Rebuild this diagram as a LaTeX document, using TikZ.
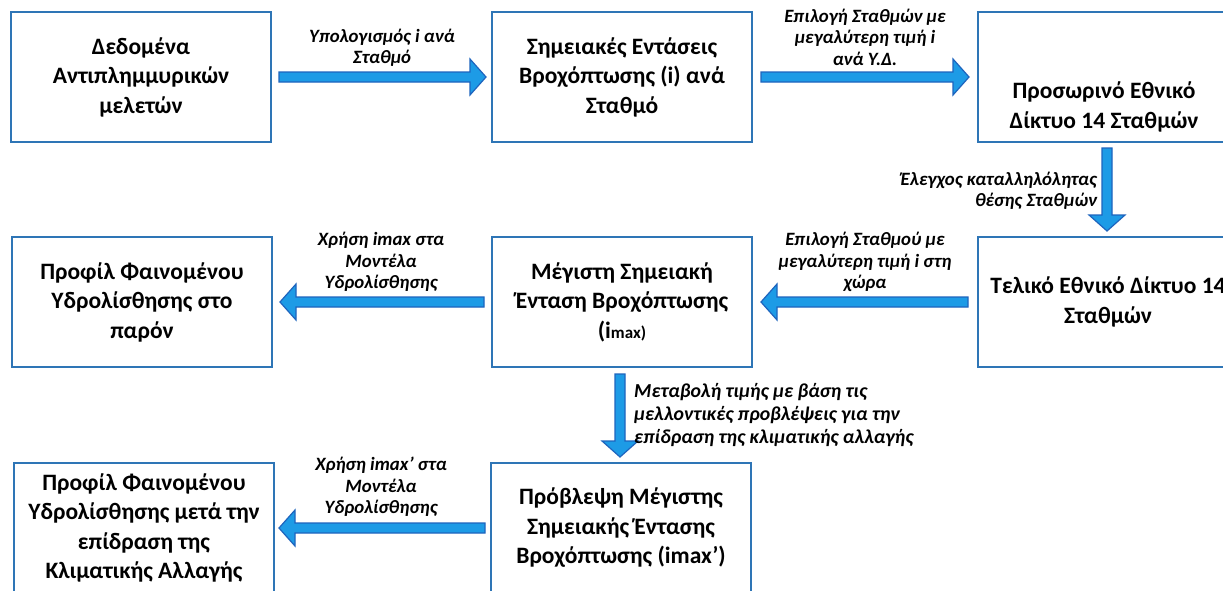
\documentclass[tikz,border=0pt]{standalone}
\usepackage{fontspec}
\setmainfont{Carlito}
\usetikzlibrary{calc}
\definecolor{boxblue}{RGB}{46,117,182}
\definecolor{arrfill}{RGB}{29,155,230}
\definecolor{arrline}{RGB}{30,100,190}
\newcommand\blockarrow[2]{%
  \path let \p1=(#1),\p2=(#2) in \pgfextra{%
    \xdef\bax{\x1}\xdef\bay{\y1}%
    \pgfmathsetmacro\baatmp{atan2(\y2-\y1,\x2-\x1)}\xdef\baa{\baatmp}%
    \pgfmathsetmacro\baltmp{veclen(\x2-\x1,\y2-\y1)}\xdef\bal{\baltmp}};
  \draw[barrowstyle,shift={(\bax,\bay)},rotate=\baa]
    (0,-5) -- (\bal-16,-5) -- (\bal-16,-18) -- (\bal,0) -- (\bal-16,18) -- (\bal-16,5) -- (0,5) -- cycle;}
\begin{document}
\begin{tikzpicture}[x=1pt,y=1pt,
  box/.style={draw=boxblue, line width=2pt, minimum width=260pt, minimum height=130pt,
    inner sep=0pt, align=center, font=\fontsize{23.5}{29.5}\selectfont\bfseries},
  boxtext/.style={inner sep=0pt, align=center, font=\fontsize{23.5}{29.5}\selectfont\bfseries},
  lbl/.style={font=\fontsize{18.8}{21.5}\selectfont\bfseries\itshape, inner sep=0pt},
  barrowstyle/.style={draw=arrline, fill=arrfill, line width=1.2pt, line join=miter}]
\useasboundingbox (0,0) rectangle (1223,-590);
\fill[white] (0,0) rectangle (1223,-590);
% boxes
\node[box] (b1) at (141,-77) {Δεδομένα\\Αντιπλημμυρικών\\μελετών};
\node[box] (b2) at (622,-77) {Σημειακές Εντάσεις\\Βροχόπτωσης (i) ανά\\Σταθμό};
\node[box] (b3) at (1108,-77) {};
\node[boxtext] (b3t) at (1104,-107) {Προσωρινό Εθνικό\\Δίκτυο 14 Σταθμών};
\node[box] (b4) at (1108,-302) {Τελικό Εθνικό Δίκτυο 14\\Σταθμών};
\node[box] (b5) at (622,-302) {Μέγιστη Σημειακή\\Ένταση Βροχόπτωσης\\(i{\fontsize{17}{17}\selectfont max)}};
\node[box] (b6) at (142,-302) {Προφίλ Φαινομένου\\Υδρολίσθησης στο\\παρόν};
\node[box] (b7) at (621,-528) {Πρόβλεψη Μέγιστης\\Σημειακής Έντασης\\Βροχόπτωσης (imax’)};
\node[box] (b8) at (144,-528) {Προφίλ Φαινομένου\\Υδρολίσθησης μετά την\\επίδραση της\\Κλιματικής Αλλαγής};
% arrows
\blockarrow{$(b1.east)+(7,0)$}{$(b2.west)+(-5,0)$}
\blockarrow{$(b2.east)+(8,0)$}{$(b3.west)+(-8,0)$}
\blockarrow{$(b3.south)+(-1,-5)$}{$(b4.north)+(-1,5)$}
\blockarrow{$(b4.west)+(-9,0)$}{$(b5.east)+(8,0)$}
\blockarrow{$(b5.west)+(-7,0)$}{$(b6.east)+(7,0)$}
\blockarrow{$(b5.south)+(-2,-6)$}{$(b7.north)+(-1,5)$}
\blockarrow{$(b7.west)+(-5,0)$}{$(b8.east)+(4,0)$}
% labels
\node[lbl, align=center] (l1) at (382,-48) {Υπολογισμός i ανά\\Σταθμό};
\node[lbl, align=center] (l2) at (865,-37) {Επιλογή Σταθμών με\\μεγαλύτερη τιμή i\\ανά Υ.Δ.};
\node[lbl, align=right, anchor=east] (l3) at (1097,-191) {Έλεγχος καταλληλόλητας\\θέσης Σταθμών};
\node[lbl, align=center] (l4) at (865,-262) {Επιλογή Σταθμού με\\μεγαλύτερη τιμή i στη\\χώρα};
\node[lbl, align=center] (l5) at (381,-262) {Χρήση imax στα\\Μοντέλα\\Υδρολίσθησης};
\node[lbl, align=left, anchor=west, font=\fontsize{19.8}{23}\selectfont\bfseries\itshape] (l6) at (634,-415) {Μεταβολή τιμής με βάση τις\\μελλοντικές προβλέψεις για την\\επίδραση της κλιματικής αλλαγής};
\node[lbl, align=center] (l7) at (381,-487) {Χρήση imax’ στα\\Μοντέλα\\Υδρολίσθησης};
\end{tikzpicture}
\end{document}
